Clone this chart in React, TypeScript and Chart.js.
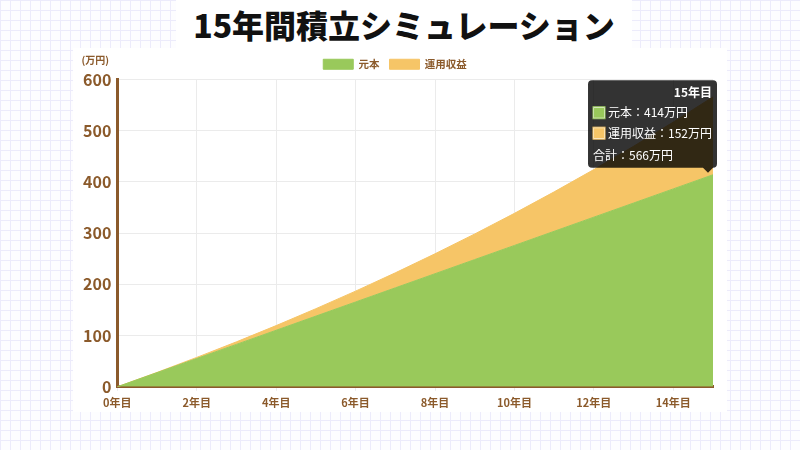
import React, { useEffect, useRef } from "react";
import { Chart, registerables, Tooltip } from "chart.js";

Chart.register(...registerables);

const yearLabels = [
  "0年目", "1年目", "2年目", "3年目", "4年目", "5年目", "6年目", "7年目",
  "8年目", "9年目", "10年目", "11年目", "12年目", "13年目", "14年目", "15年目",
];
const principal = [0, 27.6, 55.2, 82.8, 110.4, 138, 165.6, 193.2, 220.8, 248.4, 276, 303.6, 331.2, 358.8, 386.4, 414];
const returns = [0, 0.5, 2.2, 5.0, 9.1, 14.5, 21.2, 29.3, 38.9, 50.0, 62.7, 77.0, 93.0, 110.8, 130.4, 152.0];
const yTicks = { min: 0, max: 600, step: 100 };

const BROWN = "#8b5a2b";
const GREEN = "#99c95b";
const ORANGE = "#f6c567";
const FONT = '"Noto Sans CJK JP", "Noto Sans", sans-serif';

(Tooltip as any).positioners.principalPoint = function (items: any[]) {
  if (!items.length) return false;
  const it = items.find((i) => i.datasetIndex === 0) || items[0];
  return { x: it.element.x, y: it.element.y };
};

const unitLabel = {
  id: "unitLabel",
  afterDatasetsDraw(chart: any) {
    const ctx = chart.ctx;
    const a = chart.chartArea;
    ctx.save();
    ctx.font = `bold 10px ${FONT}`;
    ctx.fillStyle = BROWN;
    ctx.textAlign = "center";
    ctx.textBaseline = "middle";
    ctx.fillText("(万円)", a.left - 22, a.top - 19);
    ctx.restore();
  },
};

export default function App() {
  const ref = useRef<HTMLCanvasElement | null>(null);

  useEffect(() => {
    if (!ref.current) return;
    Chart.defaults.font.family = FONT;
    const chart = new Chart(ref.current, {
      type: "line",
      data: {
        labels: yearLabels,
        datasets: [
          {
            label: "元本",
            data: principal,
            backgroundColor: GREEN,
            borderColor: GREEN,
            borderWidth: 1,
            fill: "origin",
            pointRadius: 0,
            pointHoverRadius: 0,
            tension: 0,
          },
          {
            label: "運用収益",
            data: returns,
            backgroundColor: ORANGE,
            borderColor: ORANGE,
            borderWidth: 1,
            fill: "-1",
            pointRadius: 0,
            pointHoverRadius: 0,
            tension: 0,
          },
        ],
      },
      options: {
        responsive: false,
        animation: false,
        devicePixelRatio: 1,
        layout: { padding: { top: 1, left: 4, right: 4, bottom: 2 } },
        interaction: { mode: "index", intersect: false },
        scales: {
          x: {
            grid: { color: "#ebebeb", tickLength: 4 },
            border: { color: BROWN, width: 3 },
            ticks: {
              color: BROWN,
              font: { size: 11, weight: "bold" },
              maxRotation: 0,
              autoSkip: false,
              padding: 5,
              callback: (_v: any, i: number) => (i % 2 === 0 ? yearLabels[i] : null),
            },
          },
          y: {
            stacked: true,
            min: yTicks.min,
            max: yTicks.max,
            grid: { color: "#ebebeb", drawTicks: false },
            border: { color: BROWN, width: 3 },
            ticks: {
              stepSize: yTicks.step,
              color: BROWN,
              font: { size: 16, weight: "bold" },
              padding: 6,
            },
          },
        },
        plugins: {
          legend: {
            position: "top",
            labels: {
              color: BROWN,
              font: { size: 10.5, weight: "bold" },
              boxWidth: 30,
              boxHeight: 10,
              padding: 10,
            },
          },
          tooltip: {
            position: "principalPoint" as any,
            xAlign: "right",
            yAlign: "bottom",
            backgroundColor: "rgba(0,0,0,0.8)",
            titleAlign: "right",
            titleFont: { size: 12, weight: "bold" },
            bodyFont: { size: 12 },
            footerFont: { size: 12, weight: "normal" },
            titleMarginBottom: 6,
            bodySpacing: 6,
            footerMarginTop: 8,
            padding: 5,
            cornerRadius: 4,
            caretSize: 5,
            caretPadding: 2,
            boxPadding: 1,
            callbacks: {
              title: (items: any[]) => yearLabels[items[0].dataIndex],
              label: (c: any) => `${c.dataset.label}：${Math.round(c.parsed.y)}万円`,
              footer: (items: any[]) => {
                const i = items[0].dataIndex;
                return `合計：${Math.round(principal[i] + returns[i])}万円`;
              },
            },
          },
        },
      },
      plugins: [unitLabel],
    } as any);

    const last = principal.length - 1;
    const act = [
      { datasetIndex: 0, index: last },
      { datasetIndex: 1, index: last },
    ];
    chart.setActiveElements(act);
    chart.tooltip?.setActiveElements(act, { x: 0, y: 0 });
    chart.update();

    return () => chart.destroy();
  }, []);

  const gridBg =
    "linear-gradient(#ecebfb 1px, transparent 1px), linear-gradient(90deg, #ecebfb 1px, transparent 1px)";

  return (
    <div
      style={{
        position: "fixed",
        left: 0,
        top: 0,
        width: 800,
        height: 450,
        backgroundColor: "#fdfdff",
        backgroundImage: gridBg,
        backgroundSize: "10px 10px",
        overflow: "hidden",
      }}
    >
      <div
        style={{
          position: "absolute",
          left: 176,
          top: 0,
          width: 456,
          height: 48,
          background: "#fff",
          display: "flex",
          alignItems: "center",
          justifyContent: "center",
          fontFamily: FONT,
          fontWeight: 900,
          fontSize: 32,
          color: "#111",
          letterSpacing: 0,
        }}
      >
        15年間積立シミュレーション
      </div>
      <div
        style={{
          position: "absolute",
          left: 73,
          top: 48,
          width: 654,
          height: 364,
          background: "#fff",
        }}
      />
      <canvas
        ref={ref}
        width={644}
        height={368}
        style={{ position: "absolute", left: 73, top: 48, display: "block", width: 644, height: 368 }}
      />
    </div>
  );
}
